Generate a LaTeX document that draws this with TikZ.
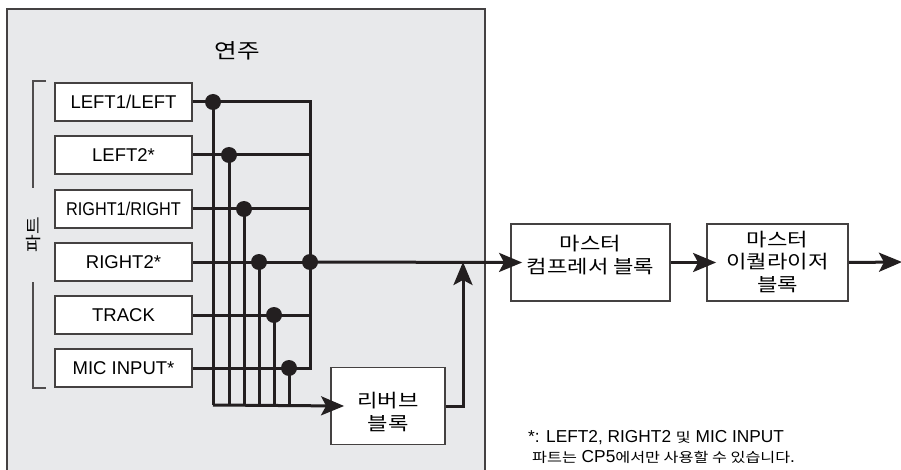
\documentclass[tikz,border=0pt]{standalone}
\usepackage{graphicx}
\usepackage{fontspec}
\setmainfont{Liberation Sans}
\newfontfamily\kr[FakeStretch=1.2]{Noto Sans CJK KR}
\usetikzlibrary{arrows.meta}
\definecolor{panelgray}{HTML}{E8E9EB}
\definecolor{ink}{HTML}{231F20}
\begin{document}
\begin{tikzpicture}[x=1pt,y=-1pt,
  partbox/.style={draw=ink!85, line width=1.8pt, fill=white, minimum width=137pt, minimum height=38pt, inner sep=0pt, font=\fontsize{18.5}{20}\selectfont},
  blockbox/.style={draw=ink!85, line width=1.8pt, fill=white, minimum height=77pt, inner sep=0pt},
  blocktext/.style={align=center, inner sep=0pt, font=\kr\fontsize{18.5}{23}\selectfont},
  wire/.style={draw=ink, line width=3pt},
  arr/.style={wire, -{Stealth[length=23pt,width=19pt,inset=5pt]}},
  junction/.style={circle, fill=ink, minimum size=16pt, inner sep=0pt},
  bracket/.style={draw=ink!80, line width=1.2pt},
]
\useasboundingbox (0,0) rectangle (901,470);
% panel
\fill[panelgray] (7,9) rectangle (485,476);
\draw[ink!85, line width=1.8pt] (7,476) -- (7,9) -- (485,9) -- (485,476);
\node[font=\kr\fontsize{20.5}{24}\selectfont] (title) at (237,51) {연주};

% part boxes
\node[partbox] (p1) at (123.5,102) {LEFT1/LEFT};
\node[partbox] (p2) at (123.5,155) {LEFT2*};
\node[partbox] (p3) at (123.5,209) {\scalebox{0.88}[1]{RIGHT1/RIGHT}};
\node[partbox] (p4) at (123.5,262) {RIGHT2*};
\node[partbox] (p5) at (123.5,315) {TRACK};
\node[partbox] (p6) at (123.5,368) {MIC INPUT*};

% bracket + label
\draw[bracket] (46,81) -- (33,81) -- (33,188);
\draw[bracket] (33,282) -- (33,388) -- (46,388);
\node[rotate=90, font=\kr\fontsize{16}{20}\selectfont] (partlabel) at (34,235) {파트};

% coordinates
\coordinate (m1) at (310,102);
\coordinate (m2) at (310,155);
\coordinate (m3) at (310,209);
\coordinate (m4) at (310,262);
\coordinate (m5) at (310,315);
\coordinate (m6) at (310,368);
\coordinate (d1) at (213,102);
\coordinate (d2) at (229,155);
\coordinate (d3) at (244,209);
\coordinate (d4) at (259,262);
\coordinate (d5) at (274,315);
\coordinate (d6) at (289,368);
\coordinate (b1) at (213,405);
\coordinate (b2) at (229,405);
\coordinate (b3) at (244,405);
\coordinate (b4) at (259,405);
\coordinate (b5) at (274,405);
\coordinate (b6) at (289,405);
\coordinate (j) at (463,262);

% blocks
\node[blockbox, minimum width=114pt] (rev) at (388,406) {};
\node[blocktext] (revtext) at ([yshift=-6pt]rev.center) {리버브\\블록};
\node[blockbox, minimum width=159pt] (comp) at (590.5,262.5) {};
\node[blocktext] (comptext) at ([yshift=7pt]comp.center) {마스터\\컴프레서 블록};
\node[blockbox, minimum width=141pt] (eq) at (777.5,262.5) {};
\node[blocktext, font=\kr\fontsize{18.5}{22.5}\selectfont] (eqtext) at ([yshift=1pt]eq.center) {마스터\\이퀄라이저\\블록};
\coordinate (out) at (902,262);

% wires
\draw[wire, line join=miter] (p1.east) -- (m1) -- (m6) -- (p6.east);
\draw[wire] (p2.east) -- (m2);
\draw[wire] (p3.east) -- (m3);
\draw[wire] (p4.east) -- (m4);
\draw[wire] (p5.east) -- (m5);
\foreach \i in {1,...,6} { \draw[wire] (d\i) -- (b\i); }
\draw[arr] (b1) -- ([xshift=14pt]rev.west);
\draw[arr] (rev.east) -| (j);
\draw[arr] (m4) -- ([xshift=12pt]comp.west);
\draw[arr] (comp.east) -- ([xshift=10pt]eq.west);
\draw[arr] (eq.east) -- (out);

% junction dots
\foreach \i in {1,...,6} { \node[junction] (jd\i) at (d\i) {}; }
\node[junction] (jm) at (m4) {};

% footnote
\node[anchor=west, inner sep=0pt, align=left, font=\fontsize{17.3}{20}\selectfont] (note) at (528,447)
  {*: LEFT2, RIGHT2 {\kr\fontsize{13.5}{20}\selectfont 및} MIC INPUT\\\hspace*{4pt}{\kr\fontsize{13.5}{20}\selectfont 파트는} CP5{\kr\fontsize{13.5}{20}\selectfont 에서만 사용할 수 있습니다}.};
\end{tikzpicture}
\end{document}
